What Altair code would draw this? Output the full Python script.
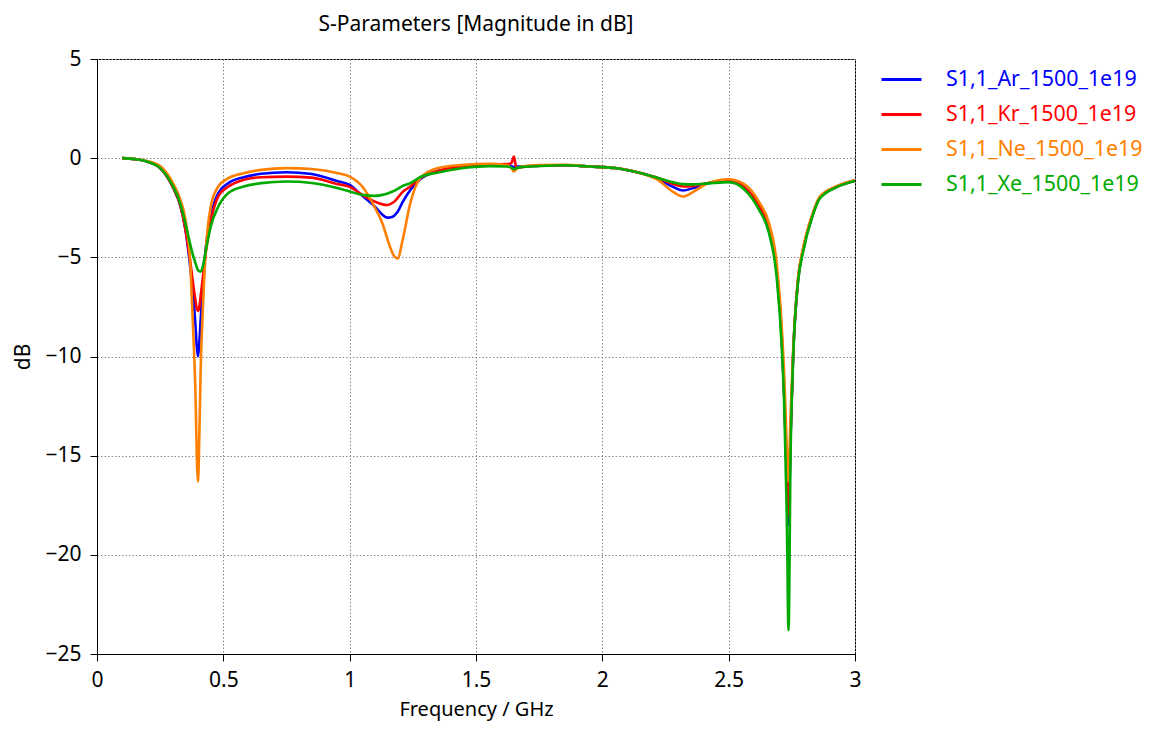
import altair as alt
import pandas as pd

names = ["S1,1_Ar_1500_1e19", "S1,1_Kr_1500_1e19", "S1,1_Ne_1500_1e19", "S1,1_Xe_1500_1e19"]
colors = ["#0000FF", "#FF0000", "#FF8000", "#00AA00"]

freq = [0.10, 0.15, 0.20, 0.25, 0.30, 0.33, 0.35, 0.37, 0.38, 0.39,
        0.395, 0.40, 0.405, 0.41, 0.42, 0.43, 0.45, 0.48, 0.52, 0.58,
        0.65, 0.75, 0.85, 0.95, 1.00, 1.05, 1.10, 1.13, 1.15, 1.17,
        1.18, 1.19, 1.21, 1.24, 1.28, 1.35, 1.45, 1.55, 1.62, 1.64,
        1.65, 1.66, 1.68, 1.75, 1.85, 1.95, 2.05, 2.15, 2.22, 2.28,
        2.32, 2.36, 2.42, 2.50, 2.56, 2.62, 2.66, 2.69, 2.71, 2.72,
        2.73, 2.737, 2.745, 2.755, 2.775, 2.795, 2.83, 2.86, 2.93, 3.00]

ar = [0.0, -0.05, -0.18, -0.5, -1.45, -2.4, -3.6, -5.6, -6.8, -8.5,
      -9.5, -10.0, -9.3, -8.2, -6.2, -4.6, -2.94, -1.76, -1.26, -0.96,
      -0.79, -0.71, -0.8, -1.15, -1.35, -1.9, -2.44, -2.85, -3.0, -2.95,
      -2.85, -2.7, -2.2, -1.6, -1.05, -0.65, -0.4, -0.32, -0.35, -0.4,
      -0.45, -0.42, -0.42, -0.38, -0.36, -0.42, -0.5, -0.75, -1.05, -1.45,
      -1.63, -1.5, -1.25, -1.12, -1.45, -2.4, -3.5, -5.7, -9.0, -12.0,
      -16.0, -18.5, -14.0, -10.0, -6.1, -4.6, -2.94, -2.0, -1.43, -1.13]

kr = [0.0, -0.05, -0.18, -0.5, -1.45, -2.4, -3.6, -5.3, -6.3, -7.2,
      -7.6, -7.7, -7.5, -7.0, -5.9, -4.8, -3.2, -1.93, -1.43, -1.09,
      -0.96, -0.93, -0.98, -1.3, -1.45, -1.85, -2.19, -2.33, -2.36, -2.25,
      -2.15, -2.0, -1.7, -1.43, -1.0, -0.65, -0.4, -0.32, -0.3, -0.25,
      0.08, -0.5, -0.45, -0.38, -0.36, -0.42, -0.5, -0.75, -1.0, -1.3,
      -1.43, -1.4, -1.25, -1.13, -1.45, -2.4, -3.5, -5.7, -9.0, -12.0,
      -16.0, -18.0, -14.0, -10.0, -6.1, -4.6, -2.94, -2.0, -1.43, -1.13]

ne = [0.0, -0.04, -0.15, -0.4, -1.25, -2.1, -3.1, -5.5, -8.5, -12.0,
      -15.0, -16.3, -14.0, -10.8, -7.3, -4.8, -2.45, -1.43, -1.01, -0.76,
      -0.59, -0.5, -0.55, -0.75, -0.93, -1.43, -2.5, -3.3, -4.1, -4.8,
      -5.0, -5.05, -4.1, -2.27, -1.0, -0.5, -0.34, -0.28, -0.35, -0.5,
      -0.67, -0.55, -0.42, -0.35, -0.34, -0.42, -0.5, -0.75, -1.1, -1.7,
      -1.93, -1.7, -1.25, -1.06, -1.3, -2.2, -3.3, -5.3, -8.5, -11.0,
      -14.5, -16.3, -13.0, -9.8, -6.0, -4.5, -2.9, -1.95, -1.4, -1.12]

xe = [0.0, -0.05, -0.18, -0.5, -1.4, -2.3, -3.3, -4.4, -4.9, -5.3,
      -5.5, -5.65, -5.7, -5.72, -5.4, -4.7, -3.45, -2.44, -1.76, -1.43,
      -1.26, -1.18, -1.25, -1.5, -1.68, -1.85, -1.9, -1.85, -1.78, -1.68,
      -1.62, -1.55, -1.4, -1.26, -0.95, -0.72, -0.5, -0.4, -0.42, -0.48,
      -0.55, -0.5, -0.45, -0.4, -0.36, -0.42, -0.5, -0.75, -1.0, -1.22,
      -1.31, -1.32, -1.27, -1.21, -1.55, -2.6, -3.8, -6.0, -9.5, -12.5,
      -18.0, -23.8, -15.0, -10.2, -6.2, -4.7, -3.0, -2.05, -1.45, -1.15]

x_ticks = [0, 0.5, 1, 1.5, 2, 2.5, 3]
y_ticks = [-25, -20, -15, -10, -5, 0, 5]

rows = []
for name, vals in zip(names, [ar, kr, ne, xe]):
    for i, (f, v) in enumerate(zip(freq, vals)):
        rows.append({"series": name, "freq": f, "db": v, "idx": i})
df = pd.DataFrame(rows)

FONT = "Noto Sans"

label_expr = ("datum.value == '%s' ? '%s' : datum.value == '%s' ? '%s' : "
              "datum.value == '%s' ? '%s' : '%s'") % (
    names[0], colors[0], names[1], colors[1], names[2], colors[2], colors[3])

chart = alt.Chart(df).mark_line(strokeWidth=2.6, interpolate="monotone", clip=True).encode(
    x=alt.X("freq:Q", scale=alt.Scale(domain=[0, 3], nice=False, zero=False),
            axis=alt.Axis(values=x_ticks, format="~g", title="Frequency / GHz",
                          titlePadding=9, labelPadding=8, labelFlush=False,
                          titleFontSize=20)),
    y=alt.Y("db:Q", scale=alt.Scale(domain=[-25, 5], nice=False, zero=False),
            axis=alt.Axis(values=y_ticks, format="d", title="dB",
                          titlePadding=11, labelPadding=9, labelFlush=False)),
    color=alt.Color("series:N", scale=alt.Scale(domain=names, range=colors),
                    legend=alt.Legend(title=None, orient="none", legendX=783, legendY=3,
                                      symbolType="stroke", symbolSize=1600,
                                      symbolStrokeWidth=3, labelFontSize=21.4,
                                      labelFont=FONT, labelOffset=23,
                                      clipHeight=35, rowPadding=0,
                                      labelColor={"expr": label_expr},
                                      labelLimit=400)),
    order=alt.Order("idx:Q"),
).properties(
    width=758,
    height=595,
    title=alt.TitleParams("S-Parameters [Magnitude in dB]", font=FONT, fontSize=21,
                          fontWeight="normal", color="black", anchor="middle", offset=13),
    autosize=alt.AutoSizeParams(type="none"),
    padding={"left": 89, "top": 51, "right": 291, "bottom": 67},
).configure_view(
    stroke="black", strokeWidth=1
).configure_axis(
    labelFont=FONT, labelFontSize=21, labelColor="black",
    titleFont=FONT, titleFontSize=21, titleColor="black", titleFontWeight="normal",
    domainColor="black", tickColor="black", tickSize=7,
    grid=True, gridColor="#888888", gridDash=[1.5, 2], gridWidth=1,
)

chart.save("out.html", embed_options={"renderer": "svg", "actions": False})
